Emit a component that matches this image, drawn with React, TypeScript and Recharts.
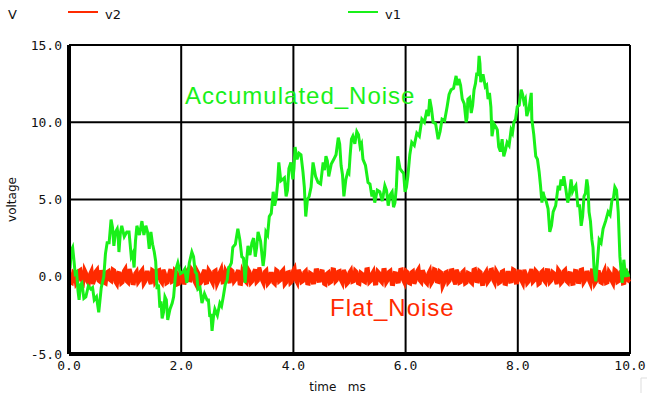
import { LineChart, Line, XAxis, YAxis, CartesianGrid } from "recharts";

// v1: accumulated noise, main turning points (time in ms, volts)
const accTime = [
  0, 0.04, 0.09, 0.18, 0.23, 0.3, 0.39, 0.45, 0.53, 0.62, 0.68, 0.75, 0.8, 0.86, 0.89, 0.94,
  1.03, 1.11, 1.16, 1.21, 1.3, 1.37, 1.43, 1.46, 1.52, 1.57, 1.62, 1.66, 1.71, 1.76, 1.84, 1.89,
  1.94, 2.03, 2.1, 2.19, 2.25, 2.3, 2.37, 2.46, 2.51, 2.55, 2.6, 2.69, 2.75, 2.82, 2.87, 2.92,
  3.01, 3.08, 3.14, 3.19, 3.26, 3.32, 3.37, 3.46, 3.51, 3.57, 3.64, 3.69, 3.74, 3.81, 3.87, 3.92,
  3.99, 4.03, 4.1, 4.17, 4.22, 4.28, 4.35, 4.44, 4.53, 4.58, 4.63, 4.72, 4.8, 4.85, 4.9, 4.97,
  5.01, 5.06, 5.13, 5.19, 5.24, 5.33, 5.4, 5.45, 5.54, 5.63, 5.69, 5.76, 5.81, 5.86, 5.94, 5.99,
  6.04, 6.11, 6.2, 6.29, 6.38, 6.43, 6.49, 6.58, 6.65, 6.74, 6.81, 6.9, 6.95, 7.01, 7.08, 7.11,
  7.17, 7.22, 7.27, 7.31, 7.34, 7.42, 7.47, 7.52, 7.54, 7.61, 7.66, 7.72, 7.75, 7.81, 7.88, 7.93,
  7.99, 8.06, 8.11, 8.16, 8.24, 8.25, 8.32, 8.38, 8.43, 8.47, 8.54, 8.57, 8.63, 8.72, 8.77, 8.82,
  8.89, 8.95, 9.0, 9.07, 9.13, 9.18, 9.23, 9.27, 9.32, 9.36, 9.39, 9.45, 9.52, 9.61, 9.68, 9.73,
  9.79, 9.82, 9.86, 9.89, 9.95, 9.98,
];
const accVolts = [
  0.5, 1.7, 1.0, -1.5, -0.4, -1.3, -0.8, -1.5, -2.3, 0, 2.2, 3.7, 2.0, 3.1, 1.6, 3.3,
  2.9, 1.3, 0.6, 3.3, 3.6, 3.3, 1.8, 2.9, 1.6, -0.8, -2.0, -2.7, -1.3, -2.8, -1.7, -0.2,
  0.9, 0.3, -0.4, 1.6, 0.3, -0.8, -1.7, -1.5, -2.6, -3.5, -2.1, -1.7, -1.3, -0.2, 0.7, 1.9,
  3.1, 1.3, -0.4, 2.0, 2.2, 1.3, 2.9, 0.7, 2.9, 3.9, 5.5, 5.0, 7.4, 6.3, 5.2, 7.0,
  6.3, 8.4, 8.0, 6.8, 3.9, 5.2, 7.4, 6.1, 7.4, 7.8, 6.5, 7.6, 9.0, 7.2, 5.2, 6.8,
  7.8, 9.1, 9.4, 8.4, 7.6, 6.1, 5.2, 4.8, 5.5, 5.9, 4.6, 5.5, 4.8, 7.8, 6.8, 5.5,
  6.5, 8.7, 9.3, 10.2, 10.8, 11.5, 10.0, 8.9, 10.2, 11.0, 12.1, 13.0, 12.8, 11.5, 10.0, 11.5,
  10.6, 12.1, 13.2, 14.3, 12.6, 12.3, 11.5, 11.0, 9.1, 9.7, 8.4, 8.9, 7.8, 8.7, 9.5, 10.0,
  11.0, 12.1, 11.3, 10.4, 11.9, 10.2, 7.8, 6.8, 4.8, 5.2, 4.4, 2.9, 4.2, 5.9, 6.3, 6.5,
  4.8, 6.3, 5.7, 4.6, 3.3, 5.2, 6.3, 4.2, 2.4, 0.5, -0.3, 2.4, 3.1, 4.2, 5.0, 5.8,
  4.2, 1.3, -0.4, 1.1, 0.3, 0,
];

// v1: the fine jitter between those turning points
const accJitterTime = [
  0.02, 0.065, 0.11, 0.135, 0.16, 0.205, 0.265, 0.345, 0.42, 0.49, 0.575, 0.65, 0.715, 0.775, 0.83, 0.875,
  0.915, 0.985, 1.07, 1.135, 1.185, 1.255, 1.335, 1.4, 1.445, 1.49, 1.545, 1.595, 1.64, 1.685, 1.735, 1.8,
  1.865, 1.915, 1.985, 2.065, 2.145, 2.22, 2.275, 2.335, 2.415, 2.485, 2.53, 2.575, 2.645, 2.72, 2.785, 2.845,
  2.895, 2.965, 3.045, 3.11, 3.165, 3.225, 3.29, 3.345, 3.415, 3.485, 3.54, 3.605, 3.665, 3.715, 3.775, 3.84,
  3.895, 3.955, 4.01, 4.065, 4.135, 4.195, 4.25, 4.315, 4.395, 4.485, 4.555, 4.605, 4.675, 4.76, 4.825, 4.875,
  4.935, 4.99, 5.035, 5.095, 5.16, 5.215, 5.285, 5.365, 5.425, 5.495, 5.585, 5.66, 5.725, 5.785, 5.835, 5.9,
  5.965, 6.015, 6.075, 6.155, 6.245, 6.335, 6.405, 6.46, 6.535, 6.615, 6.695, 6.775, 6.855, 6.925, 6.98, 7.045,
  7.095, 7.14, 7.195, 7.245, 7.29, 7.325, 7.38, 7.445, 7.495, 7.575, 7.635, 7.69, 7.78, 7.845, 7.905, 7.96,
  8.025, 8.085, 8.135, 8.2, 8.285, 8.35, 8.405, 8.45, 8.505, 8.6, 8.675, 8.745, 8.795, 8.855, 8.92, 8.975,
  9.035, 9.1, 9.155, 9.205, 9.25, 9.295, 9.34, 9.42, 9.485, 9.565, 9.645, 9.705, 9.76, 9.92,
];
const accJitterVolts = [
  0.6, 1.9, 0.2, 0.3, -0.9, -0.5, -1.4, -0.6, -0.7, -1.3, -0.7, 1.5, 2.2, 3.2, 2.9, 2.7,
  2.8, 2.6, 2.9, 1.5, 2.3, 2.7, 2.7, 2.9, 2.4, 2.1, 1.0, -0.5, -1.6, -2.3, -1.5, -2.1,
  -1.3, 0.6, 0.2, 0.5, 0.9, 1.3, 0.2, -0.7, -1.1, -1.5, -2.4, -2.6, -2.5, -1.9, -0.5, 0.6,
  0.9, 2.1, 2.4, 1.2, 1.0, 1.4, 2.5, 1.9, 2.3, 1.4, 2.7, 4.1, 4.6, 5.9, 6.2, 6.4,
  5.6, 7.4, 7.0, 7.6, 7.9, 5.8, 5.0, 5.8, 6.5, 6.0, 6.9, 7.5, 7.3, 7.9, 8.6, 6.6,
  6.3, 6.7, 8.9, 8.6, 9.2, 8.6, 7.2, 6.0, 5.6, 5.6, 4.9, 5.6, 5.3, 4.5, 5.8, 7.0,
  6.7, 5.8, 7.9, 8.5, 9.1, 10.0, 10.4, 10.9, 9.9, 9.4, 10.1, 11.8, 12.2, 12.4, 12.4, 11.2,
  10.3, 11.6, 11.1, 12.5, 13.0, 13.8, 13.1, 12.4, 11.9, 9.9, 9.5, 8.1, 8.2, 8.5, 9.3, 10.2,
  11.1, 11.8, 11.5, 10.9, 9.2, 7.6, 5.9, 5.5, 4.9, 3.3, 4.6, 5.6, 5.9, 5.7, 5.3, 5.5,
  5.9, 4.6, 3.9, 5.4, 5.8, 3.6, 1.9, 1.0, 2.2, 3.6, 4.0, 5.1, 5.6, 0.0,
];

// v2: flat noise around zero, two evenly spaced runs over 0..10 ms
const flatVolts = [
  0.32, -0.41, 0.18, -0.29, 0.44, -0.37, 0.25, -0.46, 0.39, -0.21,
  0.47, -0.33, 0.12, -0.44, 0.36, -0.27, 0.41, -0.49, 0.22, -0.35,
  0.52, -0.38, 0.17, -0.42, 0.34, -0.24, 0.45, -0.31, 0.28, -0.47,
  0.38, -0.19, 0.43, -0.4, 0.21, -0.36, 0.49, -0.28, 0.31, -0.45,
  0.26, -0.39, 0.42, -0.23, 0.35, -0.48, 0.19, -0.33, 0.46, -0.37,
  0.29, -0.43, 0.4, -0.26, 0.5, -0.34, 0.23, -0.41, 0.37, -0.2,
  0.44, -0.46, 0.16, -0.38, 0.33, -0.3, 0.48, -0.25, 0.27, -0.44,
  0.41, -0.35, 0.2, -0.47, 0.36, -0.22, 0.45, -0.39, 0.3, -0.32,
  0.55, -0.4, 0.24, -0.28, 0.39, -0.45, 0.18, -0.36, 0.43, -0.26,
  0.34, -0.5, 0.28, -0.33, 0.46, -0.21, 0.37, -0.42, 0.22, -0.38,
  0.42, -0.29, 0.31, -0.46, 0.19, -0.35, 0.49, -0.27, 0.35, -0.43,
  0.25, -0.37, 0.44, -0.24, 0.38, -0.48, 0.21, -0.31, 0.47, -0.4,
  0.3, -0.44, 0.36, -0.22, 0.51, -0.36, 0.17, -0.45, 0.4, -0.28,
  0.45, -0.33, 0.27, -0.41, 0.32, -0.26, 0.43, -0.5, 0.24, -0.34,
  0.39, -0.38, 0.2, -0.43, 0.48, -0.3, 0.29, -0.46, 0.35, -0.23,
  0.46, -0.4, 0.23, -0.35, 0.37, -0.47, 0.26, -0.29, 0.42, -0.37,
  0.33, -0.45, 0.19, -0.32, 0.5, -0.25, 0.3, -0.42, 0.38, -0.36,
  0.41, -0.27, 0.24, -0.48, 0.34, -0.31, 0.45, -0.39, 0.22, -0.44,
  0.36, -0.34, 0.47, -0.24, 0.28, -0.46, 0.4, -0.3, 0.31, -0.41,
  0.43, -0.37, 0.21, -0.45, 0.39, -0.28, 0.34, -0.4, 0.26, -0.33,
];
const flatVoltsB = [
  -0.36, 0.27, -0.44, 0.38, -0.22, 0.45, -0.31, 0.19, -0.48, 0.35,
  -0.26, 0.42, -0.39, 0.3, -0.2, 0.47, -0.34, 0.24, -0.43, 0.37,
  -0.29, 0.5, -0.41, 0.21, -0.37, 0.33, -0.46, 0.28, -0.23, 0.44,
  -0.35, 0.39, -0.27, 0.46, -0.42, 0.18, -0.33, 0.41, -0.49, 0.26,
  -0.38, 0.31, -0.21, 0.48, -0.3, 0.36, -0.45, 0.23, -0.4, 0.43,
  -0.25, 0.34, -0.47, 0.29, -0.36, 0.4, -0.19, 0.45, -0.32, 0.22,
  -0.44, 0.37, -0.28, 0.49, -0.4, 0.25, -0.35, 0.6, -0.24, 0.32,
  -0.46, 0.2, -0.38, 0.43, -0.3, 0.35, -0.5, 0.27, -0.41, 0.39,
  -0.22, 0.46, -0.34, 0.3, -0.43, 0.24, -0.37, 0.42, -0.27, 0.36,
  -0.45, 0.21, -0.39, 0.48, -0.31, 0.33, -0.24, 0.44, -0.48, 0.28,
  -0.33, 0.4, -0.42, 0.26, -0.29, 0.47, -0.36, 0.19, -0.44, 0.35,
  -0.26, 0.43, -0.38, 0.31, -0.47, 0.23, -0.32, 0.45, -0.21, 0.38,
  -0.4, 0.29, -0.46, 0.36, -0.25, 0.42, -0.35, 0.22, -0.43, 0.49,
  -0.3, 0.34, -0.62, 0.27, -0.37, 0.41, -0.23, 0.46, -0.39, 0.3,
  -0.44, 0.25, -0.34, 0.44, -0.28, 0.37, -0.47, 0.2, -0.36, 0.43,
  -0.22, 0.39, -0.41, 0.32, -0.45, 0.26, -0.31, 0.48, -0.38, 0.34,
  -0.27, 0.45, -0.43, 0.23, -0.35, 0.4, -0.49, 0.29, -0.24, 0.42,
  -0.37, 0.31, -0.2, 0.47, -0.42, 0.36, -0.3, 0.24, -0.46, 0.38,
  -0.33, 0.44, -0.39, 0.27, -0.25, 0.41, -0.45, 0.33, -0.36, 0.22,
  -0.41, 0.35, -0.28, 0.46, -0.34, 0.3, -0.43, 0.39, -0.26, 0.32,
];

const xTicks = [0, 2, 4, 6, 8, 10];
const yTicks = [-5, 0, 5, 10, 15];

const GREEN = "#19f019";
const RED = "#ff2a00";
const MONO = "'DejaVu Sans Mono', monospace";
const SANS = "'DejaVu Sans', sans-serif";

const accData = [
  ...accTime.map((t, i) => ({ t, v: accVolts[i] })),
  ...accJitterTime.map((t, i) => ({ t, v: accJitterVolts[i] })),
].sort((a, b) => a.t - b.t);

const step = 10 / (flatVolts.length - 1);
const flatData = [
  ...flatVolts.map((v, i) => ({ t: i * step, v })),
  ...flatVoltsB.slice(0, flatVolts.length - 1).map((v, i) => ({ t: (i + 0.5) * step, v })),
].sort((a, b) => a.t - b.t);

export default function App() {
  const tickStyle = { fontSize: 13, fontFamily: MONO, fill: "#111" };
  return (
    <div style={{ position: "absolute", left: 0, top: 0, width: 647, height: 395, background: "#fff" }}>
      <LineChart width={647} height={395} margin={{ top: 45, right: 17, bottom: 0, left: 0 }}>
        <CartesianGrid stroke="#000" strokeWidth={2} horizontalValues={yTicks} verticalValues={xTicks} />
        <XAxis
          type="number"
          dataKey="t"
          domain={[0, 10]}
          ticks={xTicks}
          tickFormatter={(v: number) => v.toFixed(1)}
          height={41}
          tickLine={false}
          tickSize={5}
          tickMargin={2}
          axisLine={{ stroke: "#000", strokeWidth: 4 }}
          tick={tickStyle}
          label={{
            value: "time\u00a0\u00a0\u00a0ms",
            position: "insideBottom",
            offset: 4,
            dx: -12,
            style: { fontSize: 12, fontFamily: SANS, fill: "#111" },
          }}
        />
        <YAxis
          type="number"
          domain={[-5, 15]}
          ticks={yTicks}
          tickFormatter={(v: number) => v.toFixed(1)}
          width={69}
          tickLine={false}
          tickSize={5}
          tickMargin={2}
          axisLine={{ stroke: "#000", strokeWidth: 4 }}
          tick={tickStyle}
          label={{
            value: "voltage",
            angle: -90,
            position: "insideLeft",
            offset: 12,
            style: { fontSize: 12, fontFamily: SANS, fill: "#111", textAnchor: "middle" },
          }}
        />
        <Line data={flatData} dataKey="v" type="linear" stroke={RED} strokeWidth={4} dot={false} isAnimationActive={false} />
        <Line data={accData} dataKey="v" type="linear" stroke={GREEN} strokeWidth={3} dot={false} isAnimationActive={false} />
      </LineChart>
      <svg width={647} height={395} style={{ position: "absolute", left: 0, top: 0, pointerEvents: "none" }}>
        <text x={8} y={19} fontSize={13} fontFamily={SANS} fill="#111">V</text>
        <line x1={68} x2={98} y1={12} y2={12} stroke={RED} strokeWidth={2} />
        <text x={105} y={19} fontSize={13} fontFamily={SANS} fill="#111">v2</text>
        <line x1={348} x2={378} y1={12} y2={12} stroke={GREEN} strokeWidth={2} />
        <text x={385} y={19} fontSize={13} fontFamily={SANS} fill="#111">v1</text>
        <text x={185} y={104} fontSize={24} fontFamily="'Liberation Sans', Arial, sans-serif" fill={GREEN} letterSpacing={1}>
          Accumulated_Noise
        </text>
        <text x={330} y={316} fontSize={24} fontFamily="'Liberation Sans', Arial, sans-serif" fill={RED} letterSpacing={1}>
          Flat_Noise
        </text>
        <path d="M641 393 L641 378 L647 378" fill="none" stroke="#ddd" strokeWidth={1} />
      </svg>
    </div>
  );
}
